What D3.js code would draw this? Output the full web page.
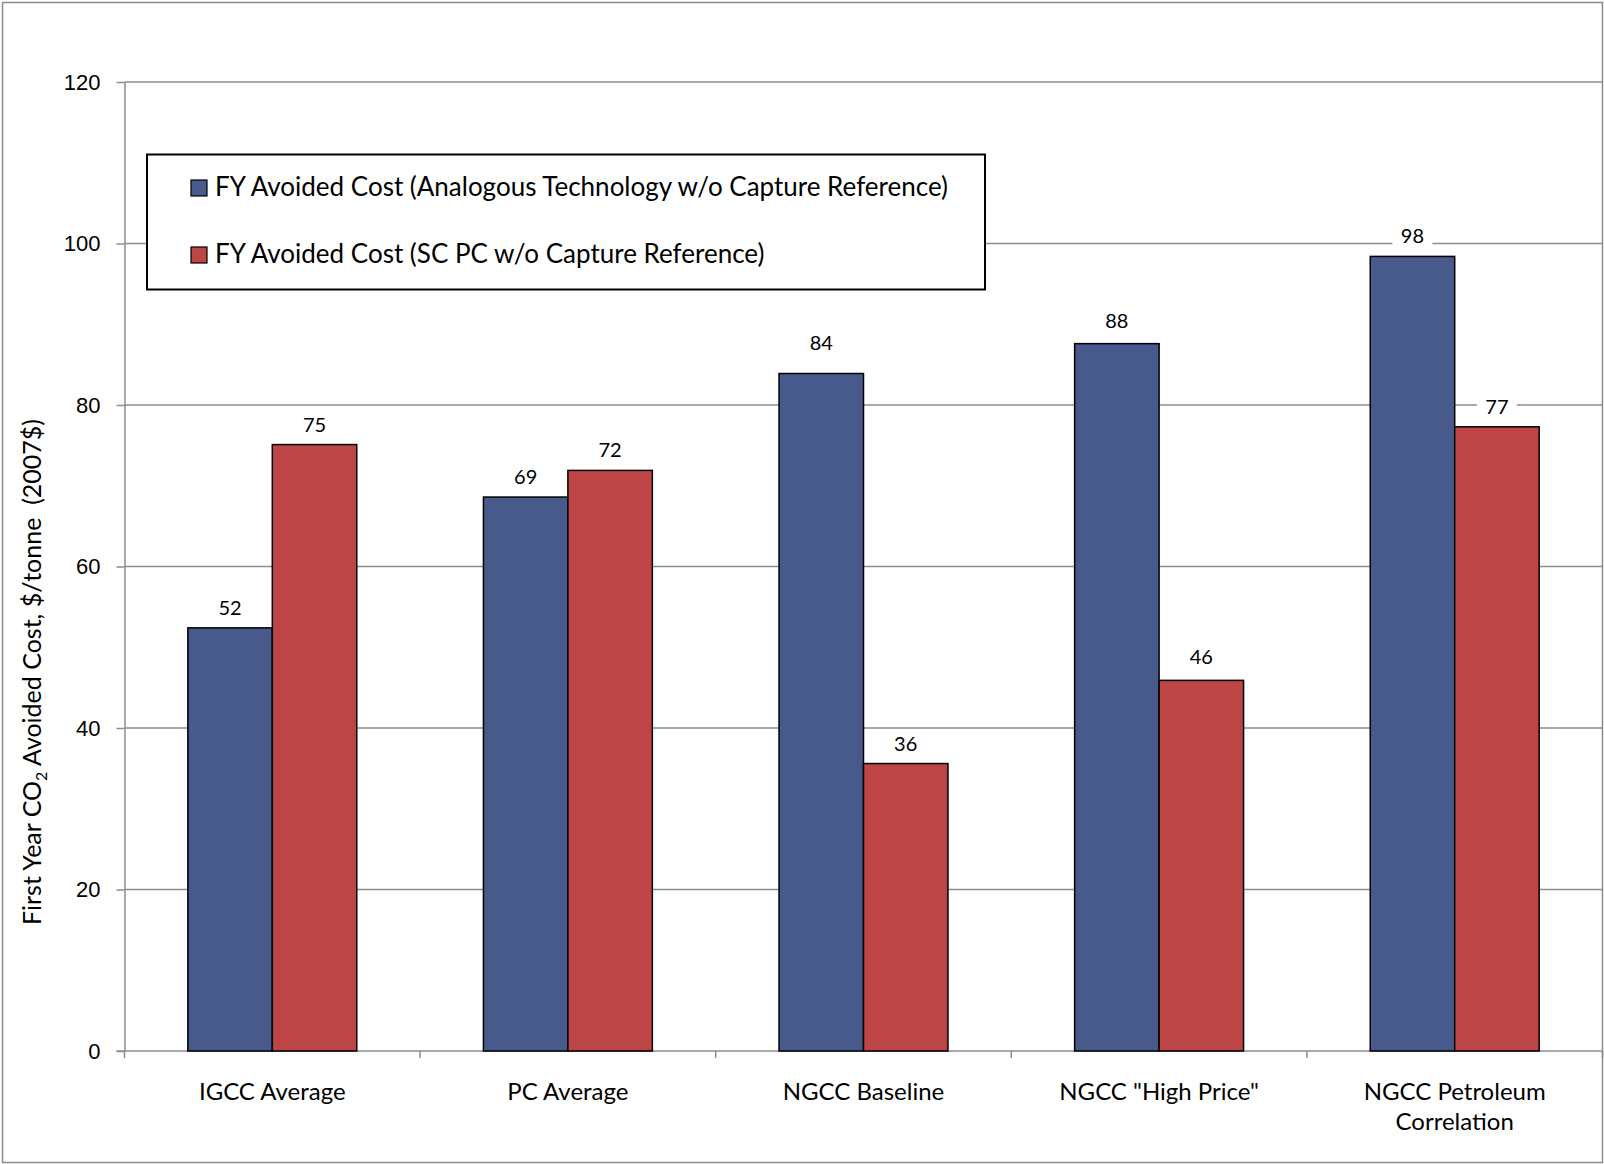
<!DOCTYPE html>
<html>
<head>
<meta charset="utf-8">
<script src="https://cdn.jsdelivr.net/npm/d3@7"></script>
<style>
  body { margin: 0; background: #fff; }
  svg { display: block; font-family: Lato, "Open Sans", sans-serif; }
  .grid line { stroke: #8c8c8c; stroke-width: 1.5; }
  .axis path, .axis line { stroke: #8c8c8c; stroke-width: 1.5; }
  .axis text { fill: #000; font-size: 22px; }
  .bar { stroke: #000; stroke-width: 1.5; }
  .value { font-size: 20px; fill: #000; }
  .cat { font-size: 24px; fill: #000; }
  .legend text { font-size: 26px; fill: #000; }
  .ytitle { font-size: 25px; fill: #000; white-space: pre; }
</style>
</head>
<body>
<svg width="1604" height="1164"></svg>
<script>
const categories = ['IGCC Average', 'PC Average', 'NGCC Baseline', 'NGCC "High Price"', 'NGCC Petroleum Correlation'];
const categoryLines = [['IGCC Average'], ['PC Average'], ['NGCC Baseline'], ['NGCC "High Price"'], ['NGCC Petroleum', 'Correlation']];
const seriesNames = ['FY Avoided Cost (Analogous Technology w/o Capture Reference)', 'FY Avoided Cost (SC PC w/o Capture Reference)'];
const seriesColors = ['#485a8c', '#be4546'];
const analogous = [52.4, 68.6, 83.9, 87.6, 98.4];
const scPc = [75.1, 71.9, 35.6, 45.9, 77.3];
const yTicks = [0, 20, 40, 60, 80, 100, 120];

const svg = d3.select('svg');
const W = 1604, H = 1164;
const plot = { left: 124.5, right: 1602.5, top: 82, bottom: 1051 };

// outer chart border
svg.append('rect')
    .attr('x', 2.5).attr('y', 2.5)
    .attr('width', W - 4).attr('height', H - 4)
    .attr('fill', '#fff').attr('stroke', '#8c8c8c').attr('stroke-width', 1.5);

const x0 = d3.scaleBand().domain(categories).range([plot.left, plot.right]).padding(0);
const x1 = d3.scaleBand().domain([0, 1]).range([0, x0.bandwidth()]).paddingInner(0).paddingOuter(0.75);
const y = d3.scaleLinear().domain([0, 120]).range([plot.bottom, plot.top]);

// horizontal gridlines
svg.append('g')
    .attr('class', 'grid')
    .selectAll('line')
    .data(yTicks.filter(d => d > 0))
    .enter().append('line')
    .attr('x1', plot.left).attr('x2', plot.right)
    .attr('y1', d => y(d)).attr('y2', d => y(d));

// y axis
svg.append('g')
    .attr('class', 'axis')
    .attr('transform', `translate(${plot.left},0)`)
    .call(d3.axisLeft(y).tickValues(yTicks).tickSize(8).tickSizeOuter(0).tickPadding(16));

// x axis baseline + ticks at category boundaries
const xAxis = svg.append('g').attr('class', 'axis');
xAxis.append('line')
    .attr('x1', plot.left - 8).attr('x2', plot.right)
    .attr('y1', y(0)).attr('y2', y(0));
xAxis.selectAll('.xtick')
    .data(categories.map(c => x0(c)).concat([x0.range()[1]]))
    .enter().append('line')
    .attr('class', 'xtick')
    .attr('x1', d => d).attr('x2', d => d)
    .attr('y1', y(0)).attr('y2', y(0) + 7);

const rows = categories.map((c, i) => ({ cat: c, values: [analogous[i], scPc[i]] }));

const groups = svg.selectAll('.group')
    .data(rows)
    .enter().append('g')
    .attr('class', 'group')
    .attr('transform', d => `translate(${x0(d.cat)},0)`);

groups.selectAll('rect')
    .data(d => d.values.map((v, s) => ({ v, s })))
    .enter().append('rect')
    .attr('class', 'bar')
    .attr('x', d => x1(d.s))
    .attr('y', d => y(d.v))
    .attr('width', x1.bandwidth())
    .attr('height', d => y(0) - y(d.v))
    .attr('fill', d => seriesColors[d.s]);

// a couple of labels sit a little higher in the original
const labelLift = { 'NGCC Baseline|0': 11, 'NGCC "High Price"|0': 3, 'NGCC "High Price"|1': 3 };

// value labels with white boxes that cut the gridlines
const labels = groups.selectAll('.lab')
    .data(d => d.values.map((v, s) => ({ v, s, lift: labelLift[d.cat + '|' + s] || 0 })))
    .enter().append('g')
    .attr('class', 'lab')
    .attr('transform', d => `translate(0,${-d.lift})`);
labels.append('rect')
    .attr('x', d => x1(d.s) + x1.bandwidth() / 2 - 20)
    .attr('y', d => y(d.v) - 34)
    .attr('width', 40).attr('height', 30)
    .attr('fill', '#fff');
labels.append('text')
    .attr('class', 'value')
    .attr('x', d => x1(d.s) + x1.bandwidth() / 2)
    .attr('y', d => y(d.v) - 13)
    .attr('text-anchor', 'middle')
    .text(d => d3.format('.0f')(d.v));

// category labels
groups.append('text')
    .attr('class', 'cat')
    .attr('text-anchor', 'middle')
    .attr('x', x0.bandwidth() / 2)
    .attr('y', plot.bottom + 49)
    .selectAll('tspan')
    .data((d, i) => categoryLines[i])
    .enter().append('tspan')
    .attr('x', x0.bandwidth() / 2)
    .attr('dy', (d, i) => i === 0 ? 0 : 30)
    .text(d => d);

// legend
const legend = svg.append('g').attr('class', 'legend');
legend.append('rect')
    .attr('x', 147).attr('y', 154.5)
    .attr('width', 838).attr('height', 135)
    .attr('fill', '#fff').attr('stroke', '#000').attr('stroke-width', 2);
const items = legend.selectAll('.item')
    .data(seriesNames)
    .enter().append('g')
    .attr('class', 'item')
    .attr('transform', (d, i) => `translate(191,${180 + i * 67})`);
items.append('rect')
    .attr('width', 16).attr('height', 16)
    .attr('fill', (d, i) => seriesColors[i])
    .attr('stroke', '#000').attr('stroke-width', 1.2);
items.append('text')
    .attr('x', 24).attr('y', 16)
    .text(d => d);

// y axis title with subscript
const yt = svg.append('text')
    .attr('class', 'ytitle')
    .attr('transform', 'translate(41,672) rotate(-90)')
    .attr('text-anchor', 'middle');
yt.append('tspan').text('First Year CO');
yt.append('tspan').attr('font-size', 16).attr('dy', 6).text('2');
yt.append('tspan').attr('dy', -6).text(' Avoided Cost, $/tonne  (2007$)');
</script>
</body>
</html>
